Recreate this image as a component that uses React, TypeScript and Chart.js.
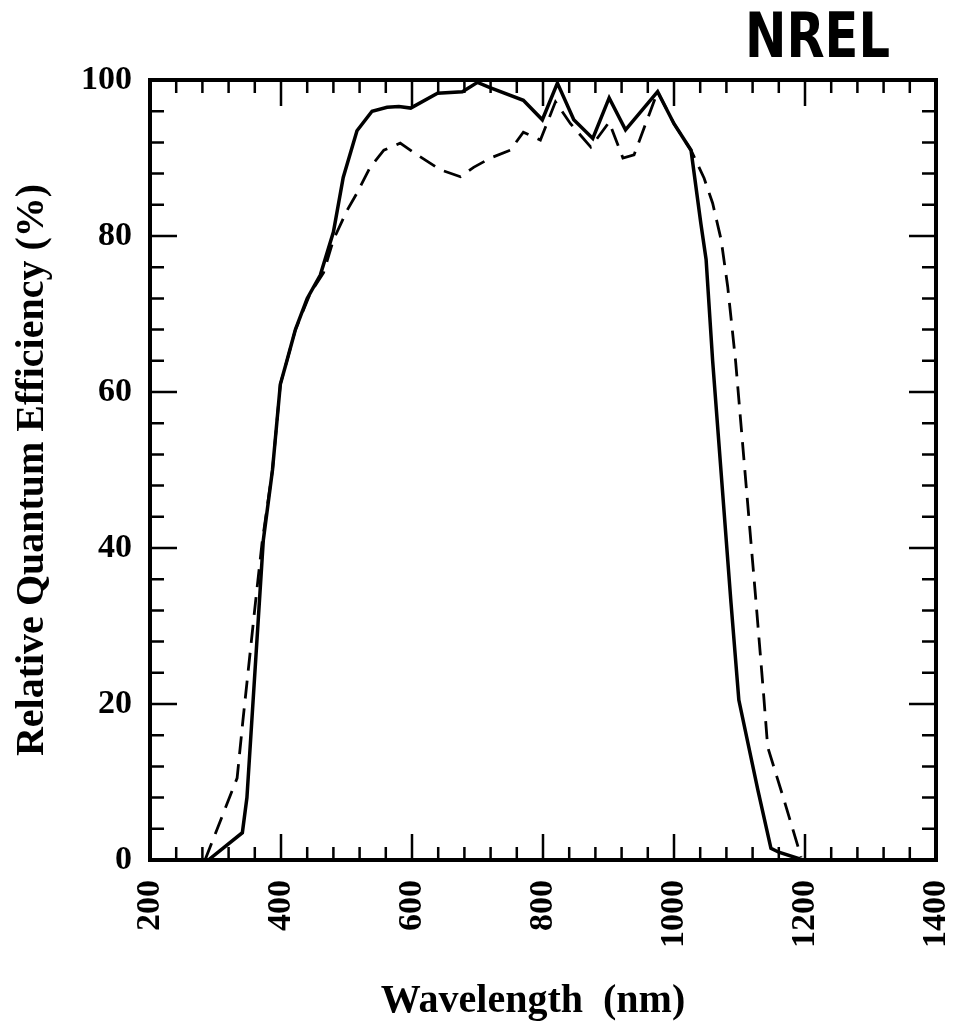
import React, { useEffect, useRef } from "react";
import { Chart, registerables } from "chart.js";

Chart.register(...registerables);

// Solid curve (wavelength in nm, relative QE in %)
const solidWavelength = [289, 341, 348, 373, 387, 399, 409, 422, 440, 460, 480, 495, 516, 539, 562, 580, 598, 639, 677, 700, 720, 770, 799, 822, 847, 876, 901, 926, 975, 1000, 1026, 1041, 1049, 1059, 1087, 1099, 1128, 1148, 1160, 1197];
const solidQE = [0, 3.5, 8, 41, 50, 61, 64, 68, 72, 75, 80.5, 87.5, 93.5, 96, 96.5, 96.6, 96.4, 98.3, 98.5, 99.7, 99, 97.4, 94.9, 99.6, 94.9, 92.5, 97.7, 93.6, 98.5, 94.4, 91, 81.6, 77, 64, 33, 20.5, 9, 1.5, 1, 0];

// Dashed curve
const dashedWavelength = [284, 333, 342, 361, 371, 387, 399, 409, 422, 445, 465, 480, 501, 516, 536, 557, 582, 608, 643, 674, 694, 720, 750, 770, 796, 819, 842, 873, 901, 922, 939, 975, 1000, 1026, 1046, 1059, 1072, 1082, 1094, 1125, 1137, 1143, 1168, 1194];
const dashedQE = [0, 10.5, 18, 33, 40.6, 50, 61, 64, 68, 72.7, 75.3, 79.5, 83.3, 85.5, 88.8, 91, 91.9, 90.4, 88.5, 87.6, 88.8, 90, 91, 93.3, 92.3, 97.2, 94.4, 91.4, 94.6, 90, 90.4, 98.5, 94.4, 91, 87.4, 84.2, 79.5, 73.5, 64, 33.3, 21, 14.5, 7.7, 0.4];

const xMin = 200;
const xMax = 1400;
const xMajorStep = 200;
const xMinorStep = 40;
const yMin = 0;
const yMax = 100;
const yMajorStep = 20;
const yMinorStep = 4;

const xAxisTitle = "Wavelength  (nm)";
const yAxisTitle = "Relative Quantum Efficiency (%)";
const logoText = "NREL";

const SERIF = '"Liberation Serif", "Times New Roman", serif';

const framePlugin = {
  id: "frameTicks",
  afterDraw(chart: any) {
    const { ctx, chartArea } = chart;
    const { left, right, top, bottom } = chartArea;
    const xs = chart.scales.x;
    const ys = chart.scales.y;
    ctx.save();
    ctx.strokeStyle = "#000";
    ctx.lineWidth = 2.5;
    ctx.beginPath();
    for (let v = xMin; v <= xMax; v += xMinorStep) {
      const px = xs.getPixelForValue(v);
      const len = v % xMajorStep === 0 ? 26 : 13;
      ctx.moveTo(px, bottom);
      ctx.lineTo(px, bottom - len);
      ctx.moveTo(px, top);
      ctx.lineTo(px, top + len);
    }
    for (let v = yMin; v <= yMax; v += yMinorStep) {
      const py = ys.getPixelForValue(v);
      const len = v % yMajorStep === 0 ? 27 : 14;
      ctx.moveTo(left, py);
      ctx.lineTo(left + len, py);
      ctx.moveTo(right, py);
      ctx.lineTo(right - len, py);
    }
    ctx.stroke();
    ctx.lineWidth = 4;
    ctx.strokeRect(left, top, right - left, bottom - top);

    // x axis title
    ctx.fillStyle = "#000";
    ctx.font = `bold 40px ${SERIF}`;
    ctx.textAlign = "center";
    ctx.textBaseline = "alphabetic";
    ctx.fillText(xAxisTitle, 533, 1012);

    // logo
    ctx.font = '900 62px "DejaVu Sans", sans-serif';
    ctx.textAlign = "left";
    const w = ctx.measureText(logoText).width;
    const targetW = 145;
    ctx.translate(745, 57);
    ctx.scale(targetW / w, 1);
    ctx.fillText(logoText, 0, 0);
    ctx.restore();
  },
};

export default function App() {
  const canvasRef = useRef<HTMLCanvasElement | null>(null);

  useEffect(() => {
    if (!canvasRef.current) return;
    const solid = solidWavelength.map((x, i) => ({ x, y: solidQE[i] }));
    const dashed = dashedWavelength.map((x, i) => ({ x, y: dashedQE[i] }));
    const chart = new Chart(canvasRef.current, {
      type: "scatter",
      data: {
        datasets: [
          {
            label: "solid",
            data: solid,
            showLine: true,
            borderColor: "#000",
            borderWidth: 3.5,
            pointRadius: 0,
            tension: 0,
            fill: false,
          },
          {
            label: "dashed",
            data: dashed,
            showLine: true,
            borderColor: "#000",
            borderWidth: 2.8,
            borderDash: [18, 10],
            pointRadius: 0,
            tension: 0,
            fill: false,
          },
        ],
      },
      options: {
        animation: false,
        responsive: true,
        maintainAspectRatio: false,
        layout: { padding: { left: 0, right: 18, top: 80, bottom: 0 } },
        plugins: {
          legend: { display: false },
          tooltip: { enabled: false },
          title: { display: false },
        },
        scales: {
          x: {
            type: "linear",
            min: xMin,
            max: xMax,
            afterFit(scale: any) {
              scale.height = 163;
              scale.paddingLeft = 0;
              scale.paddingRight = 0;
            },
            grid: { display: false, drawTicks: false },
            border: { display: false },
            ticks: {
              stepSize: xMajorStep,
              minRotation: 90,
              maxRotation: 90,
              padding: 20,
              color: "#000",
              font: { family: SERIF, size: 34, weight: "bold" },
              callback: (v: any) => String(v),
            },
            title: { display: false, text: xAxisTitle },
          },
          y: {
            type: "linear",
            min: yMin,
            max: yMax,
            afterFit(scale: any) {
              scale.width = 150;
              scale.paddingTop = 0;
              scale.paddingBottom = 0;
            },
            grid: { display: false, drawTicks: false },
            border: { display: false },
            ticks: {
              stepSize: yMajorStep,
              padding: 18,
              color: "#000",
              font: { family: SERIF, size: 34, weight: "bold" },
              callback: (v: any) => String(v),
            },
            title: {
              display: true,
              text: yAxisTitle,
              color: "#000",
              font: { family: SERIF, size: 40, weight: "bold" },
              padding: { top: 9, bottom: 0 },
            },
          },
        },
      },
      plugins: [framePlugin],
    });
    return () => chart.destroy();
  }, []);

  return (
    <div
      style={{
        position: "fixed",
        left: 0,
        top: 0,
        width: 954,
        height: 1023,
        background: "#fff",
      }}
    >
      <canvas ref={canvasRef} />
    </div>
  );
}
